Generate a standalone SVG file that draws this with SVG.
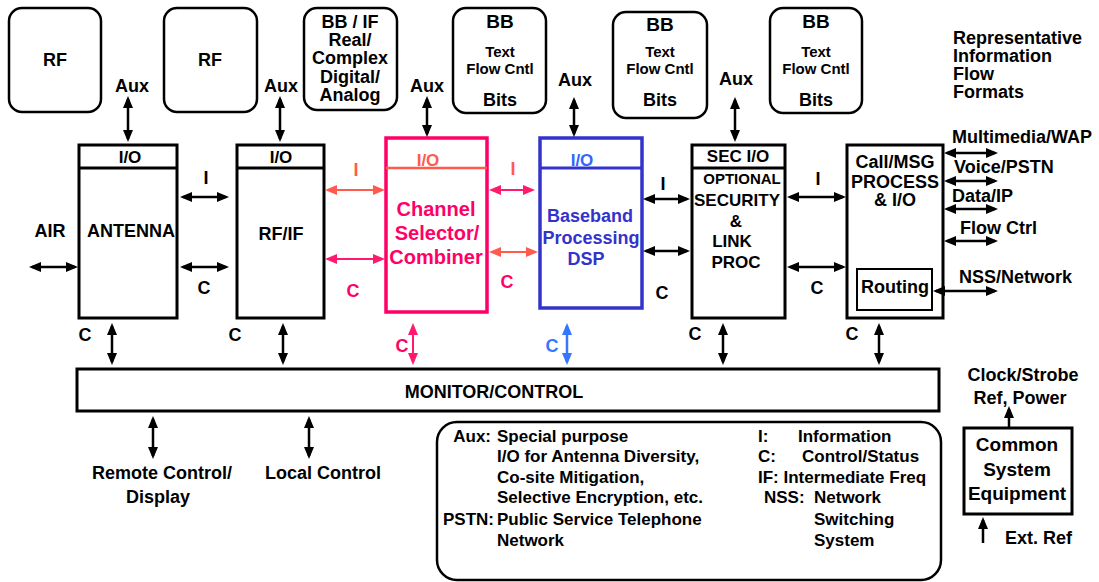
<svg xmlns="http://www.w3.org/2000/svg" width="1099" height="582" viewBox="0 0 1099 582">
<style>
text{font-family:"Liberation Sans",Arial,sans-serif;font-weight:bold;font-size:18px;fill:#000}
.m{text-anchor:middle}
.e{text-anchor:end}
.s15{font-size:15px}
.s17{font-size:17px}
.s19{font-size:19px}
.s20{font-size:20px}
.box{fill:#fff;stroke:#000;stroke-width:3}
.rb{fill:#fff;stroke:#000;stroke-width:2.5}
.k{stroke:#000;stroke-width:2.5;fill:none;marker-start:url(#ah);marker-end:url(#ah)}
.k1{stroke:#000;stroke-width:2.5;fill:none;marker-end:url(#ah)}
.p{stroke:#FF1A6E;stroke-width:2;fill:none;marker-start:url(#ahp);marker-end:url(#ahp)}
.sa{stroke:#FF5A4E;stroke-width:2;fill:none;marker-start:url(#ahs);marker-end:url(#ahs)}
.bl{stroke:#3377FF;stroke-width:2.5;fill:none;marker-start:url(#ahb);marker-end:url(#ahb)}
.pink{fill:#FF0066}
.salm{fill:#FF5A4E}
.blue{fill:#3333CC}
.lblue{fill:#3377FF}
</style>
<defs>
<marker id="ah" viewBox="0 0 12 10" refX="9" refY="5" markerWidth="12" markerHeight="10" markerUnits="userSpaceOnUse" orient="auto-start-reverse"><path d="M0,0L12,5L0,10z" fill="#000"/></marker>
<marker id="ahp" viewBox="0 0 12 10" refX="9" refY="5" markerWidth="12" markerHeight="10" markerUnits="userSpaceOnUse" orient="auto-start-reverse"><path d="M0,0L12,5L0,10z" fill="#FF1A6E"/></marker>
<marker id="ahs" viewBox="0 0 12 10" refX="9" refY="5" markerWidth="12" markerHeight="10" markerUnits="userSpaceOnUse" orient="auto-start-reverse"><path d="M0,0L12,5L0,10z" fill="#FF5A4E"/></marker>
<marker id="ahb" viewBox="0 0 12 10" refX="9" refY="5" markerWidth="12" markerHeight="10" markerUnits="userSpaceOnUse" orient="auto-start-reverse"><path d="M0,0L12,5L0,10z" fill="#3377FF"/></marker>
</defs>
<rect width="1099" height="582" fill="#fff"/>

<g id="fmt-rf1"><rect class="rb" x="9" y="8" width="92" height="104" rx="13"/><text class="m" x="55" y="66">RF</text></g>
<g id="fmt-rf2"><rect class="rb" x="164" y="8" width="93" height="104" rx="13"/><text class="m" x="210" y="66">RF</text></g>
<g id="fmt-bbif"><rect class="rb" x="304" y="8" width="93" height="102" rx="13"/>
<text class="m" x="350" y="28">BB / IF</text><text class="m" x="350" y="46">Real/</text><text class="m" x="350" y="64">Complex</text><text class="m" x="350" y="83">Digital/</text><text class="m" x="350" y="101">Analog</text></g>
<g id="fmt-bb1"><rect class="rb" x="453" y="8" width="93" height="105" rx="13"/>
<text class="m s19" x="500" y="28">BB</text><text class="m s15" x="500" y="57">Text</text><text class="m s15" x="500" y="74">Flow Cntl</text><text class="m" x="500" y="106">Bits</text></g>
<g id="fmt-bb2"><rect class="rb" x="613" y="12" width="94" height="106" rx="13"/>
<text class="m s19" x="660" y="31">BB</text><text class="m s15" x="660" y="57">Text</text><text class="m s15" x="660" y="74">Flow Cntl</text><text class="m" x="660" y="106">Bits</text></g>
<g id="fmt-bb3"><rect class="rb" x="770" y="8" width="92" height="105" rx="13"/>
<text class="m s19" x="816" y="28">BB</text><text class="m s15" x="816" y="57">Text</text><text class="m s15" x="816" y="74">Flow Cntl</text><text class="m" x="816" y="106">Bits</text></g>
<g id="fmt-title"><text x="953" y="44">Representative</text><text x="953" y="62">Information</text><text x="953" y="80">Flow</text><text x="953" y="98">Formats</text></g>

<g id="antenna"><rect class="box" x="79" y="145" width="98" height="173"/><line x1="79" y1="168" x2="177" y2="168" stroke="#000" stroke-width="3"/>
<text class="m s17" x="130" y="163">I/O</text><text class="m" x="131" y="237">ANTENNA</text></g>
<g id="rfif"><rect class="box" x="237" y="145" width="87" height="173"/><line x1="237" y1="168" x2="324" y2="168" stroke="#000" stroke-width="3"/>
<text class="m s17" x="281" y="163">I/O</text><text class="m" x="281" y="240">RF/IF</text></g>
<g id="channel"><rect x="386" y="138" width="101" height="174" fill="#fff" stroke="#FF0066" stroke-width="3.5"/><line x1="386" y1="168" x2="487" y2="168" stroke="#FF5A4E" stroke-width="2.5"/>
<text class="m s17 salm" x="428" y="166">I/O</text>
<text class="m s20 pink" x="436" y="216">Channel</text><text class="m s20 pink" x="437" y="240">Selector/</text><text class="m s20 pink" x="436" y="264">Combiner</text></g>
<g id="baseband"><rect x="540" y="138" width="102" height="170" fill="#fff" stroke="#3333CC" stroke-width="3.5"/><line x1="540" y1="168" x2="642" y2="168" stroke="#3333CC" stroke-width="3"/>
<text class="m s17" x="582" y="166" fill="#3366FF" style="fill:#3366FF">I/O</text>
<text class="m blue" x="590" y="222">Baseband</text><text class="m blue" x="591" y="244">Processing</text><text class="m blue" x="586" y="265">DSP</text></g>
<g id="security"><rect class="box" x="692" y="145" width="93" height="173"/><line x1="692" y1="168" x2="785" y2="168" stroke="#000" stroke-width="3"/>
<text class="m s17" x="738" y="162">SEC I/O</text><text class="m s15" x="742" y="184">OPTIONAL</text><text class="m s17" x="737" y="206">SECURITY</text><text class="m s17" x="736" y="227">&amp;</text><text class="m s17" x="732" y="247">LINK</text><text class="m s17" x="736" y="268">PROC</text></g>
<g id="callmsg"><rect class="box" x="847" y="145" width="96" height="173"/>
<text class="m" x="895" y="168">Call/MSG</text><text class="m" x="895" y="188">PROCESS</text><text class="m" x="895" y="206">&amp; I/O</text>
<rect x="857" y="269" width="75" height="41" fill="#fff" stroke="#000" stroke-width="2"/><text class="m" x="895" y="293">Routing</text></g>
<g id="monitor"><rect class="box" x="77" y="369" width="862" height="42"/><text class="m" x="494" y="398">MONITOR/CONTROL</text></g>
<g id="legend"><rect x="437" y="422" width="504" height="158" rx="20" fill="#fff" stroke="#000" stroke-width="2.5"/>
<text class="e s17" x="491" y="442">Aux:</text><text class="s17" x="497" y="442">Special purpose</text>
<text class="s17" x="497" y="462">I/O for Antenna Diversity,</text><text class="s17" x="497" y="483">Co-site Mitigation,</text><text class="s17" x="497" y="503">Selective Encryption, etc.</text>
<text class="s17" x="443" y="525">PSTN:</text><text class="s17" x="497" y="525">Public Service Telephone</text><text class="s17" x="497" y="546">Network</text>
<text class="s17" x="758" y="442">I:</text><text class="s17" x="798" y="442">Information</text>
<text class="s17" x="758" y="462">C:</text><text class="s17" x="802" y="462">Control/Status</text>
<text class="s17" x="758" y="483">IF: Intermediate Freq</text>
<text class="s17" x="764" y="503">NSS:</text><text class="s17" x="814" y="503">Network</text><text class="s17" x="814" y="525">Switching</text><text class="s17" x="814" y="546">System</text></g>
<g id="common"><rect class="box" x="964" y="428" width="108" height="86"/>
<text class="m s19" x="1017" y="451">Common</text><text class="m s19" x="1017" y="476">System</text><text class="m s19" x="1017" y="500">Equipment</text></g>

<g id="connectors">
<line class="k" x1="128" y1="99" x2="128" y2="139"/>
<line class="k" x1="280" y1="99" x2="280" y2="139"/>
<line class="k" x1="427" y1="99" x2="427" y2="134"/>
<line class="k" x1="574" y1="100" x2="574" y2="134"/>
<line class="k" x1="735" y1="100" x2="735" y2="139"/>
<line class="k" x1="32" y1="267" x2="75" y2="267"/>
<line class="k" x1="183" y1="197" x2="226" y2="197"/>
<line class="k" x1="183" y1="267" x2="226" y2="267"/>
<line class="sa" x1="328" y1="190" x2="382" y2="190"/>
<line class="p" x1="328" y1="259" x2="382" y2="259"/>
<line class="p" x1="492" y1="190" x2="532" y2="190"/>
<line class="sa" x1="492" y1="252" x2="535" y2="252"/>
<line class="k" x1="646" y1="199" x2="687" y2="199"/>
<line class="k" x1="646" y1="251" x2="687" y2="251"/>
<line class="k" x1="790" y1="197" x2="843" y2="197"/>
<line class="k" x1="790" y1="267" x2="843" y2="267"/>
<line class="k" x1="947" y1="153" x2="995" y2="153"/>
<line class="k" x1="947" y1="181" x2="995" y2="181"/>
<line class="k" x1="947" y1="209" x2="995" y2="209"/>
<line class="k" x1="947" y1="241" x2="995" y2="241"/>
<line class="k" x1="936" y1="291" x2="995" y2="291"/>
<line class="k" x1="112" y1="326" x2="112" y2="362"/>
<line class="k" x1="283" y1="326" x2="283" y2="362"/>
<line class="p" x1="413" y1="326" x2="413" y2="362"/>
<line class="bl" x1="567" y1="326" x2="567" y2="362"/>
<line class="k" x1="723" y1="326" x2="723" y2="362"/>
<line class="k" x1="879" y1="326" x2="879" y2="362"/>
<line class="k" x1="153" y1="419" x2="153" y2="456"/>
<line class="k" x1="309" y1="419" x2="309" y2="456"/>
<line class="k1" x1="1009" y1="427" x2="1009" y2="409"/>
<line class="k1" x1="983" y1="543" x2="983" y2="520"/>
</g>

<g id="labels">
<text class="m" x="132" y="92">Aux</text><text class="m" x="281" y="92">Aux</text><text class="m" x="427" y="92">Aux</text><text class="m" x="575" y="86">Aux</text><text class="m" x="736" y="85">Aux</text>
<text class="m" x="50" y="237">AIR</text>
<text class="m" x="206" y="184">I</text><text class="m" x="204" y="294">C</text>
<text class="m salm" x="356" y="176">I</text><text class="m pink" x="353" y="297">C</text>
<text class="m salm" x="513" y="175">I</text><text class="m pink" x="507" y="288">C</text>
<text class="m" x="663" y="190">I</text><text class="m" x="662" y="299">C</text>
<text class="m" x="818" y="185">I</text><text class="m" x="817" y="294">C</text>
<text x="952" y="143">Multimedia/WAP</text><text x="954" y="173">Voice/PSTN</text><text x="952" y="202">Data/IP</text><text x="960" y="234">Flow Ctrl</text><text x="959" y="283">NSS/Network</text>
<text class="m" x="85" y="341">C</text><text class="m" x="235" y="341">C</text><text class="m pink" x="402" y="352">C</text><text class="m lblue" x="552" y="352">C</text><text class="m" x="695" y="340">C</text><text class="m" x="852" y="340">C</text>
<text class="m" x="162" y="479">Remote Control/</text><text class="m" x="158" y="503">Display</text><text class="m" x="323" y="479">Local Control</text>
<text class="m" x="1023" y="381">Clock/Strobe</text><text class="m" x="1020" y="404">Ref, Power</text><text x="1005" y="544">Ext. Ref</text>
</g>
</svg>
